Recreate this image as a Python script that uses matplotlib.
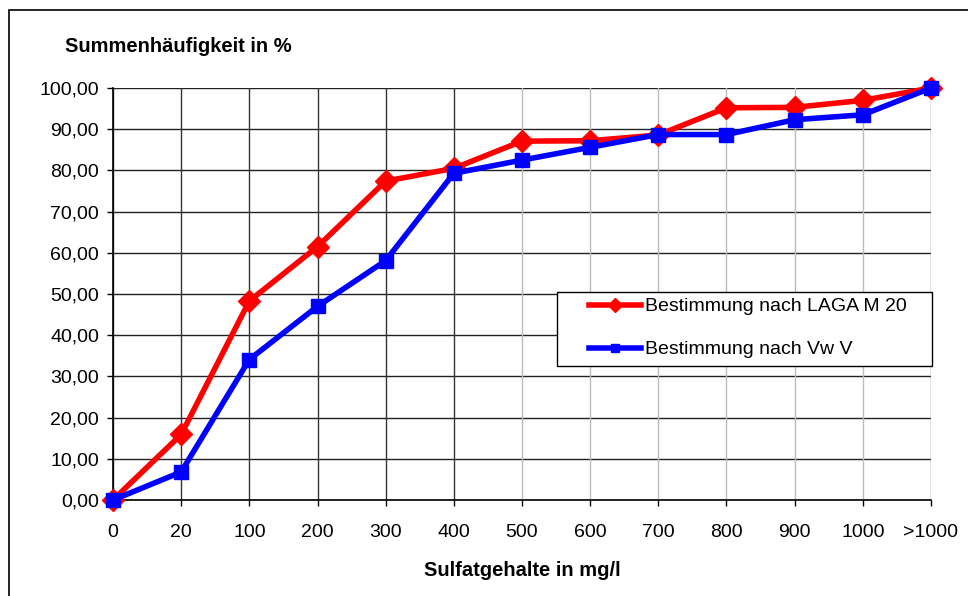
import matplotlib
matplotlib.use("Agg")
import matplotlib.pyplot as plt
from matplotlib.patches import Rectangle

categories = ["0", "20", "100", "200", "300", "400", "500", "600", "700", "800", "900", "1000", ">1000"]
laga_m20 = [0.0, 15.9, 48.3, 61.5, 77.4, 80.5, 87.1, 87.2, 88.6, 95.2, 95.3, 97.0, 100.0]
vwv = [0.0, 6.8, 34.1, 47.0, 58.1, 79.3, 82.5, 85.6, 88.7, 88.7, 92.3, 93.5, 100.0]
y_ticks = [0, 10, 20, 30, 40, 50, 60, 70, 80, 90, 100]
series_labels = ["Bestimmung nach LAGA M 20", "Bestimmung nach Vw V"]

W, H = 968, 596
plt.rcParams['font.family'] = ['Liberation Sans', 'DejaVu Sans']
fig = plt.figure(figsize=(W / 100, H / 100), dpi=100)

def fx(px):
    return px / W

def fy(py):
    return 1 - py / H

# outer chart border
fig.patches.append(Rectangle((fx(9), fy(700)), 2.0, fy(10) - fy(700), transform=fig.transFigure,
                             facecolor='none', edgecolor='black', linewidth=1.2, zorder=0))

ax = fig.add_axes([fx(113), fy(500), fx(931) - fx(113), fy(88) - fy(500)])
x = list(range(len(categories)))

ax.plot(x, laga_m20, color='#ff0000', linewidth=4.0, marker='D', markersize=11,
        label=series_labels[0], zorder=3, clip_on=False)
ax.plot(x, vwv, color='#0000ff', linewidth=4.0, marker='s', markersize=9.5,
        label=series_labels[1], zorder=4, clip_on=False)

ax.set_xlim(0, len(categories) - 1)
ax.set_ylim(0, 100)
ax.set_xticks(x)
ax.set_xticklabels(categories)
ax.set_yticks(y_ticks)
ax.set_yticklabels([f"{v:.2f}".replace('.', ',') for v in y_ticks])

# gridlines
for v in y_ticks:
    ax.axhline(v, color='#222222', linewidth=1.0, zorder=1)
for i in x:
    c = '#333333' if i <= 5 else '#bbbbbb'
    if i == len(categories) - 1:
        c = '#777777'
    ax.axvline(i, color=c, linewidth=1.0, zorder=1)

for s in ['top', 'right']:
    ax.spines[s].set_visible(False)
for s in ['left', 'bottom']:
    ax.spines[s].set_color('black')
    ax.spines[s].set_linewidth(1.2)
    ax.spines[s].set_zorder(2)

ax.tick_params(axis='y', direction='out', length=4, width=1, pad=6, labelsize=14)
ax.tick_params(axis='x', direction='out', length=4, width=1, pad=13, labelsize=14)

fig.text(fx(65), fy(46), "Summenhäufigkeit in %", fontsize=14.5, fontweight='bold',
         ha='left', va='center')
fig.text(fx(522), fy(570), "Sulfatgehalte in mg/l", fontsize=14.5, fontweight='bold',
         ha='center', va='center')

# legend box
ax.add_patch(Rectangle((fx(557), fy(366)), fx(932) - fx(557), fy(292) - fy(366),
                       transform=fig.transFigure, facecolor='white', edgecolor='black',
                       linewidth=1.0, zorder=5, clip_on=False))
leg = ax.legend(loc='upper left', bbox_to_anchor=(fx(583), fy(292)), bbox_transform=fig.transFigure,
                frameon=False, fontsize=14, handlelength=2.7, handletextpad=0.2,
                labelspacing=1.3, borderpad=0.3, borderaxespad=0, markerscale=0.65)
leg.set_zorder(6)

fig.savefig("out.png", dpi=100)
